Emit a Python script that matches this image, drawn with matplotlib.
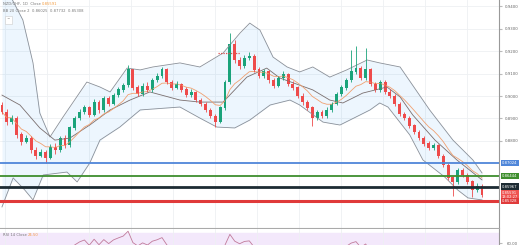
import numpy as np
import pandas as pd
import matplotlib
matplotlib.use("Agg")
import matplotlib.pyplot as plt

# candles (daily)
opens = [0.8960, 0.8929, 0.8884, 0.8902, 0.8827, 0.8796, 0.8813, 0.8760, 0.8733, 0.8751,
         0.8724, 0.8773, 0.8760, 0.8813, 0.8782, 0.8858, 0.8902, 0.8929, 0.8947, 0.8916,
         0.8973, 0.8938, 0.8991, 0.8964, 0.9004, 0.9027, 0.9049, 0.9116, 0.9036, 0.9009,
         0.9044, 0.9027, 0.9071, 0.9089, 0.9116, 0.9062, 0.9036, 0.9053, 0.9027, 0.9004,
         0.9018, 0.8982, 0.8964, 0.8938, 0.8911, 0.8884, 0.8947, 0.9062, 0.9227, 0.9160,
         0.9133, 0.9169, 0.9178, 0.9116, 0.9089, 0.9107, 0.9071, 0.9044, 0.9080, 0.9098,
         0.9053, 0.9036, 0.9000, 0.8973, 0.8947, 0.8902, 0.8929, 0.8911, 0.8938, 0.8964,
         0.9009, 0.9036, 0.9071, 0.9107, 0.9124, 0.9080, 0.9116, 0.9053, 0.9027, 0.9062,
         0.9018, 0.9000, 0.8964, 0.8920, 0.8902, 0.8867, 0.8840, 0.8813, 0.8787, 0.8769,
         0.8778, 0.8733, 0.8693, 0.8636, 0.8618, 0.8671, 0.8649, 0.8618, 0.8582, 0.8600]
closes = [0.8929, 0.8884, 0.8902, 0.8827, 0.8796, 0.8813, 0.8760, 0.8733, 0.8751, 0.8724,
          0.8773, 0.8760, 0.8813, 0.8782, 0.8858, 0.8902, 0.8929, 0.8947, 0.8916, 0.8973,
          0.8938, 0.8991, 0.8964, 0.9004, 0.9027, 0.9049, 0.9116, 0.9036, 0.9009, 0.9044,
          0.9027, 0.9071, 0.9089, 0.9116, 0.9062, 0.9036, 0.9053, 0.9027, 0.9004, 0.9018,
          0.8982, 0.8964, 0.8938, 0.8911, 0.8884, 0.8947, 0.9062, 0.9227, 0.9160, 0.9133,
          0.9169, 0.9178, 0.9116, 0.9089, 0.9107, 0.9071, 0.9044, 0.9080, 0.9098, 0.9053,
          0.9036, 0.9000, 0.8973, 0.8947, 0.8902, 0.8929, 0.8911, 0.8938, 0.8964, 0.9009,
          0.9036, 0.9071, 0.9107, 0.9124, 0.9080, 0.9116, 0.9053, 0.9027, 0.9062, 0.9018,
          0.9000, 0.8964, 0.8920, 0.8902, 0.8867, 0.8840, 0.8813, 0.8787, 0.8769, 0.8778,
          0.8733, 0.8693, 0.8636, 0.8618, 0.8671, 0.8649, 0.8618, 0.8582, 0.8600, 0.8559]
highs = [0.8972, 0.8941, 0.8915, 0.8910, 0.8838, 0.8828, 0.8820, 0.8772, 0.8764, 0.8760,
         0.8785, 0.8790, 0.8822, 0.8827, 0.8866, 0.8913, 0.8942, 0.8960, 0.8955, 0.8986,
         0.8984, 0.9002, 0.9000, 0.9015, 0.9038, 0.9060, 0.9140, 0.9122, 0.9047, 0.9056,
         0.9062, 0.9082, 0.9101, 0.9131, 0.9125, 0.9070, 0.9066, 0.9060, 0.9038, 0.9029,
         0.9024, 0.8993, 0.8975, 0.8947, 0.8920, 0.8956, 0.9071, 0.9280, 0.9248, 0.9175,
         0.9182, 0.9195, 0.9186, 0.9128, 0.9120, 0.9114, 0.9082, 0.9091, 0.9110, 0.9104,
         0.9066, 0.9045, 0.9012, 0.8982, 0.8955, 0.8940, 0.8938, 0.8949, 0.8975, 0.9020,
         0.9047, 0.9082, 0.9204, 0.9222, 0.9135, 0.9213, 0.9125, 0.9064, 0.9073, 0.9070,
         0.9030, 0.9008, 0.8972, 0.8931, 0.8910, 0.8876, 0.8850, 0.8822, 0.8798, 0.8790,
         0.8786, 0.8742, 0.8700, 0.8645, 0.8682, 0.8680, 0.8658, 0.8626, 0.8612, 0.8608]
lows = [0.8918, 0.8871, 0.8876, 0.8815, 0.8780, 0.8790, 0.8748, 0.8722, 0.8728, 0.8702,
        0.8718, 0.8742, 0.8752, 0.8768, 0.8775, 0.8849, 0.8893, 0.8918, 0.8905, 0.8910,
        0.8925, 0.8930, 0.8955, 0.8958, 0.8995, 0.9018, 0.9042, 0.9025, 0.8998, 0.9001,
        0.9018, 0.9020, 0.9063, 0.9080, 0.9054, 0.9027, 0.9030, 0.9016, 0.8995, 0.8996,
        0.8973, 0.8954, 0.8928, 0.8900, 0.8862, 0.8878, 0.8940, 0.9055, 0.9148, 0.9122,
        0.9125, 0.9160, 0.9105, 0.9078, 0.9082, 0.9060, 0.9035, 0.9038, 0.9072, 0.9044,
        0.9028, 0.8990, 0.8962, 0.8936, 0.8867, 0.8895, 0.8900, 0.8904, 0.8930, 0.8958,
        0.9000, 0.9028, 0.9064, 0.9100, 0.9070, 0.9072, 0.9044, 0.9018, 0.9020, 0.9008,
        0.8990, 0.8955, 0.8910, 0.8893, 0.8858, 0.8830, 0.8803, 0.8778, 0.8760, 0.8762,
        0.8724, 0.8684, 0.8626, 0.8555, 0.8610, 0.8640, 0.8608, 0.8550, 0.8574, 0.8552]

# Bollinger bands read at a few candle positions
bb_pos = [0, 2.7, 4.3, 6.4, 7.8, 9.9, 12.6, 17.5, 20.2, 22.3, 25.8, 28.5, 31.1, 36.7, 40.8,
          45.6, 49.1, 51.1, 53.2, 55.9, 58.8, 61.4, 64.1, 67.6, 71.1, 75.3, 77.9, 82.1,
          88.2, 93.0, 97.1, 99]
bb_upper = [0.9516, 0.9404, 0.9338, 0.9147, 0.8924, 0.8818, 0.8907, 0.9062, 0.9040, 0.9018,
            0.9124, 0.9116, 0.9129, 0.9147, 0.9129, 0.9191, 0.9280, 0.9324, 0.9293, 0.9173,
            0.9129, 0.9107, 0.9129, 0.9084, 0.9116, 0.9160, 0.9147, 0.9129, 0.8938, 0.8804,
            0.8716, 0.8658]
mid_pos = [0, 3.7, 7.8, 10.9, 14, 18.1, 22.3, 26.4, 30.5, 36.7, 40.8, 45.6, 50.5, 54.6,
           57.3, 64.1, 67.6, 70.3, 74.4, 79.4, 82.1, 84.7, 89.3, 93.8, 99]
bb_mid = [0.9004, 0.8960, 0.8858, 0.8804, 0.8813, 0.8871, 0.8938, 0.8982, 0.9018, 0.8982,
          0.8973, 0.8973, 0.9084, 0.9124, 0.9080, 0.9027, 0.8982, 0.8969, 0.9013, 0.9040,
          0.8996, 0.8916, 0.8804, 0.8716, 0.8627]
low_pos = [0, 2.3, 4.7, 6.4, 8.5, 13.4, 15.5, 18.1, 20.2, 24.3, 28.5, 36.7, 40.8, 44.3,
           48, 51.1, 55.3, 59.4, 61.4, 66.2, 69.7, 75.9, 77.9, 79.6, 84.1, 86.8, 91.3,
           94, 96.1, 99]
bb_lower = [0.8507, 0.8636, 0.8582, 0.8538, 0.8649, 0.8662, 0.8618, 0.8702, 0.8804, 0.8862,
            0.8938, 0.8951, 0.8902, 0.8862, 0.8858, 0.8893, 0.8960, 0.8982, 0.8960, 0.8884,
            0.8871, 0.8938, 0.8969, 0.8951, 0.8827, 0.8716, 0.8640, 0.8582, 0.8547, 0.8538]

# horizontal levels
levels = [0.87024, 0.86444, 0.85967, 0.85328]
level_colors = ["#4f86d9", "#3e8e2e", "#1d2b33", "#e03a3a"]
level_widths = [1.3, 1.3, 2.0, 2.2]
last_price = 0.85591
countdown = "13:02:27"
ticks = [0.94, 0.93, 0.92, 0.91, 0.90, 0.89, 0.88]
marker_level = 0.9191
marker_span = (44.5, 49.0)

o = np.array(opens); c = np.array(closes); h = np.array(highs); l = np.array(lows)
x = np.arange(len(c))
ema = pd.Series(c).ewm(span=9).mean()
d = pd.Series(c).diff()
gain = d.clip(lower=0).ewm(alpha=1/14).mean()
loss = (-d.clip(upper=0)).ewm(alpha=1/14).mean()
rsi = 100 - 100 / (1 + gain / loss)

fig = plt.figure(figsize=(5.2, 2.45), dpi=100)
ax = fig.add_axes([0, 17/245, 499/520, 228/245])
ax2 = fig.add_axes([0, 0, 499/520, 16/245])

ax.set_xlim(-0.41, 102.5)
ax.set_ylim(0.84133, 0.94267)
ax.set_xticks(np.arange(0.6, 102, 8.66))
ax.set_yticks(ticks)
ax.grid(color="#eef0f3", lw=0.6)
ax.set_axisbelow(True)

up = np.interp(x, bb_pos, bb_upper)
lo = np.interp(x, low_pos, bb_lower)
ax.fill_between(x, lo, up, color="#2196f3", alpha=0.08, lw=0)
ax.plot(bb_pos, bb_upper, color="#8a9099", lw=0.6)
ax.plot(low_pos, bb_lower, color="#8a9099", lw=0.6)
ax.plot(mid_pos, bb_mid, color="#7a6f6f", lw=0.6)
ax.plot(x, ema, color="#f0a070", lw=0.6)

cols = np.where(c >= o, "#1aa37a", "#ee4b4b")
ax.vlines(x, l, h, colors=cols, lw=0.6)
ax.bar(x, np.abs(c - o) + 0.0002, bottom=np.minimum(o, c), width=0.6, color=cols)

ax.hlines(marker_level, *marker_span, colors="#e05050", lw=0.9, linestyles=(0, (1, 1)))

for lev, col, w in zip(levels, level_colors, level_widths):
    ax.axhline(lev, color=col, lw=w)

ax.yaxis.tick_right()
ax.tick_params(axis="y", labelsize=2.8, labelcolor="#666", length=2, color="#bbb", pad=2)
ax.tick_params(axis="x", length=0, labelbottom=False)
ax.yaxis.set_major_formatter(matplotlib.ticker.FormatStrFormatter("%.4f"))
for s in ["top", "left"]:
    ax.spines[s].set_visible(False)
ax.spines["right"].set_color("#999")
ax.spines["bottom"].set_color("#aaa")

# price labels on the scale
box = dict(boxstyle="square,pad=0.35", lw=0)
ytr = ax.get_yaxis_transform()
ax.text(1.006, last_price, f"{last_price:.5f}\n{countdown}", transform=ytr,
        fontsize=2.6, color="white", va="center", ha="left", linespacing=1.15,
        bbox=dict(box, fc="#ef5350"))
for lev, col in zip(levels, level_colors):
    ax.text(1.006, lev, f"{lev:.5f}", transform=ytr, fontsize=2.7,
            color="white", va="center", ha="left", bbox=dict(box, fc=col))

# legend lines, top-left
t1 = ax.text(0.006, 0.993, "NZD/CHF, 1D  Close ", transform=ax.transAxes, fontsize=2.7,
             color="#777", va="top")
ax.annotate(f"{last_price:.5f}", xy=(1, 0), xycoords=t1, va="bottom", fontsize=2.7,
            color="#f39a3c")
ax.text(0.006, 0.962, "BB 20 Close 2  0.86025  0.87732  0.85308", transform=ax.transAxes,
        fontsize=2.7, color="#777", va="top")
ax.text(0.017, 0.912, "^", transform=ax.transAxes, fontsize=3, color="#666", ha="center",
        va="center", bbox=dict(boxstyle="square,pad=0.4", fc="white", ec="#ccc", lw=0.4))

# RSI pane
ax2.set_xlim(-0.41, 102.5)
ax2.set_ylim(58, 74)
ax2.axhspan(30, 70, color="#f3e8fb")
ax2.plot(x, rsi, color="#c07a9a", lw=0.6)
ax2.set_xticks(np.arange(0.6, 102, 8.66))
ax2.grid(axis="x", color="#eef0f3", lw=0.6)
ax2.set_yticks([60])
ax2.yaxis.tick_right()
ax2.yaxis.set_major_formatter(matplotlib.ticker.FormatStrFormatter("%.2f"))
ax2.tick_params(axis="y", labelsize=2.8, labelcolor="#666", length=2, color="#bbb")
ax2.tick_params(axis="x", length=0, labelbottom=False)
for s in ["top", "left", "bottom"]:
    ax2.spines[s].set_visible(False)
ax2.spines["right"].set_color("#999")
t2 = ax2.text(0.006, 0.62, "RSI 14 Close ", transform=ax2.transAxes, fontsize=2.7,
              color="#777", va="center")
ax2.annotate(f"{rsi.iloc[-1]:.2f}", xy=(1, 0), xycoords=t2, va="bottom", fontsize=2.7,
             color="#f39a3c")

fig.savefig("out.png", dpi=100)
